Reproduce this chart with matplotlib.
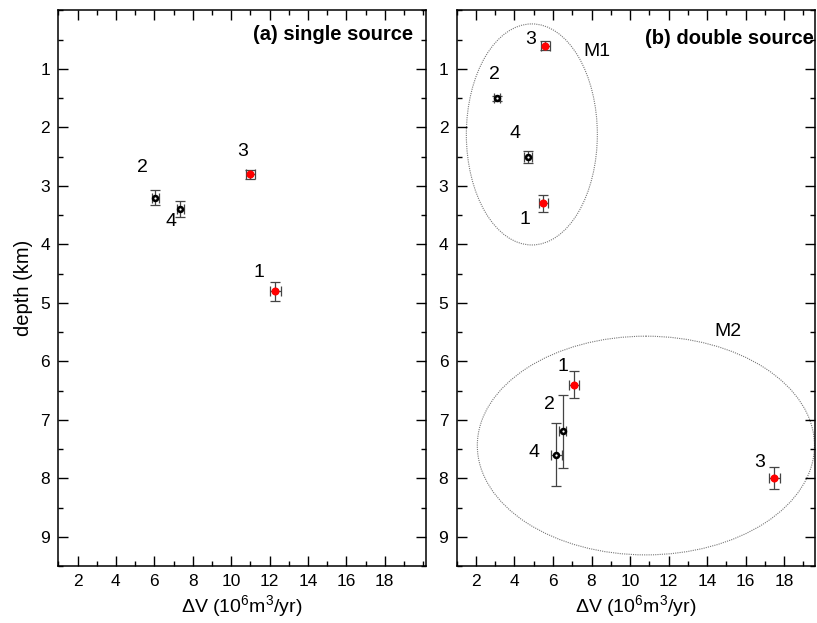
import matplotlib
matplotlib.use("Agg")
import matplotlib.pyplot as plt
from matplotlib.patches import Ellipse
from matplotlib.ticker import MultipleLocator, FixedLocator

plt.rcParams["font.family"] = ["Liberation Sans", "DejaVu Sans"]
plt.rcParams["mathtext.fontset"] = "custom"
plt.rcParams["mathtext.rm"] = "Liberation Sans"

# ---- data ----
ids = ["1", "2", "3", "4"]
is_red = [True, False, True, False]

# (a) single source
dv_a = [12.3, 6.05, 11.0, 7.35]
depth_a = [4.8, 3.2, 2.8, 3.4]
dv_err_a = [0.3, 0.17, 0.24, 0.17]
depth_err_a = [0.16, 0.13, 0.08, 0.14]

# (b) double source, shallow source M1
dv_m1 = [5.5, 3.1, 5.6, 4.7]
depth_m1 = [3.3, 1.5, 0.6, 2.5]
dv_err_m1 = [0.22, 0.15, 0.25, 0.22]
depth_err_m1 = [0.15, 0.04, 0.07, 0.1]

# (b) double source, deep source M2
dv_m2 = [7.1, 6.5, 17.48, 6.18]
depth_m2 = [6.4, 7.2, 8.0, 7.6]
dv_err_m2 = [0.26, 0.18, 0.29, 0.3]
depth_err_m2 = [0.23, 0.62, 0.19, 0.54]

# cluster outlines: (centre dv, centre depth, width, height)
m1_ellipse = (4.9, 2.12, 6.8, 3.78)
m2_ellipse = (10.82, 7.44, 17.5, 3.74)

# label offsets in pixels (dx, dy)
off_a = [(-16, 19), (-13, 30), (-8, 23), (-9, -12)]
off_m1 = [(-18, -16), (-3, 24), (-15, 6), (-13, 23)]
off_m2 = [(-11, 18), (-13, 27), (-15, 16), (-22, 2)]

xlabel = "ΔV (10$^{6}$m$^{3}$/yr)"


def draw_points(ax, dv, depth, dv_err, depth_err, offsets):
    for i in range(len(dv)):
        ax.errorbar(dv[i], depth[i], xerr=dv_err[i], yerr=depth_err[i],
                    fmt="none", ecolor="#444444", elinewidth=0.9,
                    capsize=3.6, capthick=0.9, zorder=2)
        if is_red[i]:
            ax.plot(dv[i], depth[i], "o", ms=5.8, mfc="red", mec="red",
                    mew=0, zorder=3)
        else:
            # black dot with a small light centre
            ax.plot(dv[i], depth[i], "o", ms=5.4, mfc="black", mec="black",
                    mew=0, zorder=3)
            ax.plot(dv[i], depth[i], "o", ms=1.6, mfc="white", mec="white",
                    mew=0, zorder=4)
        ax.annotate(ids[i], (dv[i], depth[i]), xytext=offsets[i],
                    textcoords="offset pixels", ha="center", va="center",
                    fontsize=14)


def style_axis(ax, xmax):
    ax.set_xlim(1, xmax)
    ax.set_ylim(9.5, 0)
    ax.xaxis.set_major_locator(FixedLocator(range(2, 19, 2)))
    ax.xaxis.set_minor_locator(MultipleLocator(1))
    ax.yaxis.set_major_locator(FixedLocator(range(1, 10)))
    ax.yaxis.set_minor_locator(MultipleLocator(0.5))
    ax.tick_params(which="both", direction="in", top=True, right=True,
                   labelsize=12.5, width=1.0)
    ax.tick_params(which="major", length=7.2, pad=6)
    ax.tick_params(which="minor", length=3.6)
    for s in ax.spines.values():
        s.set_linewidth(1.1)
    ax.set_xlabel(xlabel, fontsize=14, labelpad=3)


fig = plt.figure(figsize=(8.17, 6.23), dpi=100)
ax1 = fig.add_axes([0.0714, 0.0915, 0.450, 0.8917])
ax2 = fig.add_axes([0.559, 0.0915, 0.4386, 0.8917])

style_axis(ax1, 20.15)
style_axis(ax2, 19.6)
ax1.set_ylabel("depth (km)", fontsize=14.5, labelpad=5)

draw_points(ax1, dv_a, depth_a, dv_err_a, depth_err_a, off_a)
draw_points(ax2, dv_m1, depth_m1, dv_err_m1, depth_err_m1, off_m1)
draw_points(ax2, dv_m2, depth_m2, dv_err_m2, depth_err_m2, off_m2)

for (cx, cy, w, h), name, lx, ly in [(m1_ellipse, "M1", 8.3, 0.7),
                                      (m2_ellipse, "M2", 15.1, 5.49)]:
    ax2.add_patch(Ellipse((cx, cy), w, h, fill=False, edgecolor="#777777",
                          linestyle=(0, (1, 1)), linewidth=0.8, zorder=1))
    ax2.text(lx, ly, name, fontsize=14, ha="center", va="center")

ax1.text(0.964, 0.956, "(a) single source", transform=ax1.transAxes,
         ha="right", va="center", fontsize=14.5, fontweight="bold")
ax2.text(0.998, 0.949, "(b) double source", transform=ax2.transAxes,
         ha="right", va="center", fontsize=14.5, fontweight="bold")

fig.savefig("out.png", dpi=100)
